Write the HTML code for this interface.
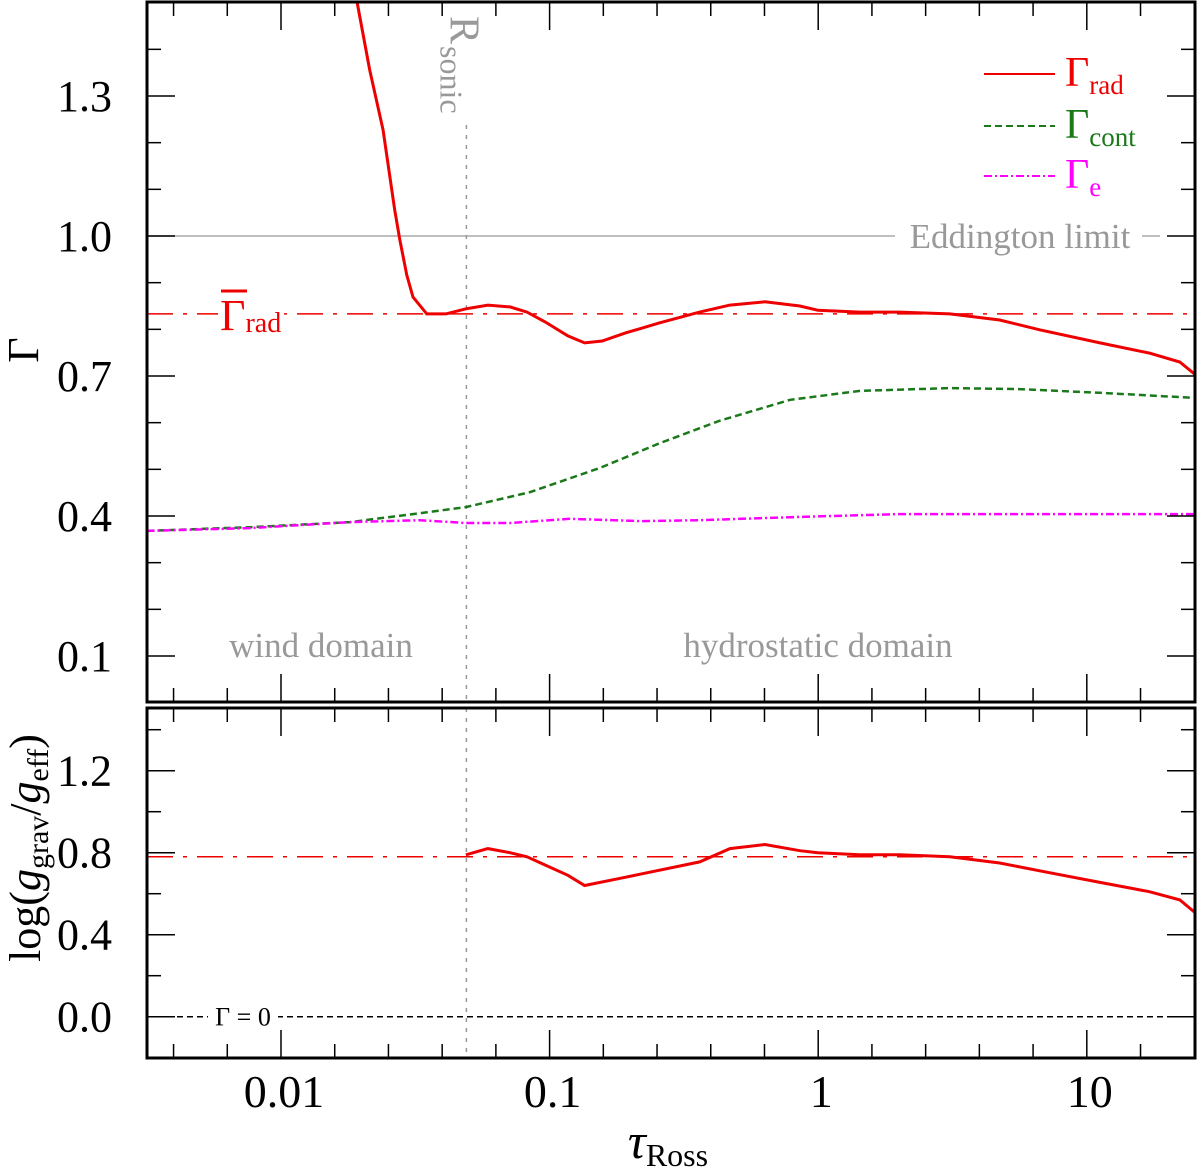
<!DOCTYPE html>
<html><head><meta charset="utf-8"><style>
body{margin:0;background:#fff}
svg{display:block;font-family:"Liberation Serif",serif}
</style></head><body>
<svg id="chart" width="1200" height="1171" viewBox="0 0 1200 1171" xmlns="http://www.w3.org/2000/svg">
<g id="g"></g>
</svg>
<script>
const tauRad=[0.0192,0.0214,0.0240,0.0265,0.0277,0.0294,0.0310,0.0349,0.0411,0.0488,0.0589,0.0712,0.0824,0.0962,0.117,0.135,0.157,0.191,0.257,0.362,0.469,0.633,0.855,0.997,1.43,2.01,3.09,4.74,6.68,11.2,17.1,22.2,25.2];
const gammaRad=[1.501,1.356,1.227,1.056,0.991,0.916,0.869,0.833,0.833,0.844,0.852,0.848,0.837,0.816,0.786,0.771,0.775,0.792,0.814,0.837,0.852,0.859,0.850,0.841,0.837,0.837,0.833,0.820,0.799,0.771,0.749,0.730,0.704];
const tauCont=[0.00316,0.00767,0.0181,0.0329,0.0488,0.0844,0.154,0.257,0.429,0.786,1.43,3.09,5.59,11.2,25.2];
const gammaCont=[0.368,0.376,0.387,0.406,0.419,0.451,0.503,0.556,0.604,0.649,0.668,0.674,0.672,0.664,0.653];
const tauE=[0.00316,0.00767,0.0181,0.0329,0.0488,0.0712,0.119,0.217,0.362,0.855,2.01,4.74,25.2];
const gammaE=[0.368,0.374,0.387,0.391,0.385,0.385,0.394,0.389,0.391,0.398,0.404,0.404,0.404];
const tauG=[0.0488,0.0589,0.0712,0.0824,0.0962,0.117,0.135,0.191,0.362,0.469,0.633,0.855,0.997,1.43,2.01,3.09,4.74,7.1,11.2,17.1,22.2,25.2];
const logG=[0.79,0.82,0.80,0.78,0.74,0.69,0.64,0.68,0.755,0.82,0.84,0.81,0.80,0.79,0.79,0.78,0.75,0.705,0.655,0.61,0.57,0.51];
const gammaMean=[0.833];
const logGMean=[0.78];
const tauSonic=[0.049];
const topTicks=[0.1,0.4,0.7,1.0,1.3];
const botTicks=[0.0,0.4,0.8,1.2];
const xTicks=[0.01,0.1,1,10];
const xTickLabels=["0.01","0.1","1","10"];

const NS="http://www.w3.org/2000/svg";
const L=147,R=1195,T1=2,B1=702,T2=708,B2=1058;
const X=t=>281+(Math.log10(t)+2)*268.6;
const Y1=v=>236-(v-1)*466.67;
const Y2=v=>1016.7-v*205;
const g=document.getElementById('g');
function el(tag,attrs,name,txt){const e=document.createElementNS(NS,tag);for(const k in attrs)e.setAttribute(k,attrs[k]);


if(txt!==undefined)e.textContent=txt;g.appendChild(e);return e;}
function pts(xs,ys,fy){return xs.map((t,i)=>X(t).toFixed(1)+','+fy(ys[i]).toFixed(1)).join(' ');}

const defs=document.createElementNS(NS,'defs');
defs.innerHTML='<clipPath id="c1"><rect x="147" y="2" width="1048" height="700"/></clipPath><clipPath id="c2"><rect x="147" y="708" width="1048" height="350"/></clipPath>';
g.appendChild(defs);

// eddington line
el('line',{x1:L,x2:895,y1:Y1(1),y2:Y1(1),stroke:'#aaa','stroke-width':1.5},'eddington-line');
el('line',{x1:1142,x2:1160,y1:Y1(1),y2:Y1(1),stroke:'#aaa','stroke-width':1.5},'eddington-line-end');
el('text',{x:1020,y:Y1(1)+12,'font-size':35,fill:'#999','text-anchor':'middle'},'eddington-label','Eddington limit');
// sonic line
el('line',{x1:X(tauSonic[0]),x2:X(tauSonic[0]),y1:125,y2:B1,stroke:'#999','stroke-width':1.5,'stroke-dasharray':'4,6'},'sonic-line-top');
el('line',{x1:X(tauSonic[0]),x2:X(tauSonic[0]),y1:T2,y2:B2,stroke:'#999','stroke-width':1.5,'stroke-dasharray':'4,6'},'sonic-line-bottom');
const st=el('text',{x:0,y:0,'font-size':42,fill:'#999',transform:`translate(${X(tauSonic[0])-16},16) rotate(90)`},'sonic-label');
st.innerHTML='R<tspan font-size="32" dy="10" dx="2">sonic</tspan>';
// mean lines
el('line',{x1:L,x2:R,y1:Y1(gammaMean[0]),y2:Y1(gammaMean[0]),stroke:'#e00','stroke-width':1.5,'stroke-dasharray':'26,10,4,10'},'gamma-rad-mean-line');
el('rect',{x:218,y:286,width:66,height:52,fill:'#fff'},'mean-label-bg');
const ml=el('text',{x:220,y:330,'font-size':44,fill:'#e00'},'gamma-rad-mean-label');
ml.innerHTML='Γ<tspan font-size="28" dy="2">rad</tspan>';
el('line',{x1:221,x2:247,y1:291,y2:291,stroke:'#e00','stroke-width':3},'mean-overbar');
el('line',{x1:L,x2:R,y1:Y2(logGMean[0]),y2:Y2(logGMean[0]),stroke:'#e00','stroke-width':1.5,'stroke-dasharray':'26,10,4,10'},'log-g-mean-line');
// gamma=0
el('line',{x1:L,x2:R,y1:Y2(0),y2:Y2(0),stroke:'#000','stroke-width':1.5,'stroke-dasharray':'6,4'},'gamma-zero-line');
el('rect',{x:208,y:Y2(0)-16,width:70,height:30,fill:'#fff'},'gamma-zero-bg');
el('text',{x:243,y:Y2(0)+9,'font-size':26,'text-anchor':'middle'},'gamma-zero-label','Γ = 0');
// series
el('polyline',{points:pts(tauCont,gammaCont,Y1),fill:'none',stroke:'#1a7a1a','stroke-width':2.5,'stroke-dasharray':'7,4','clip-path':'url(#c1)'},'gamma-cont-line');
el('polyline',{points:pts(tauE,gammaE,Y1),fill:'none',stroke:'#f0f','stroke-width':2.5,'stroke-dasharray':'8,3,2,3','clip-path':'url(#c1)'},'gamma-e-line');
el('polyline',{points:pts(tauRad,gammaRad,Y1),fill:'none',stroke:'#e00','stroke-width':3,'clip-path':'url(#c1)'},'gamma-rad-line');
el('polyline',{points:pts(tauG,logG,Y2),fill:'none',stroke:'#e00','stroke-width':3,'clip-path':'url(#c2)'},'log-g-ratio-line');
// domain labels
el('text',{x:321,y:657,'font-size':35,fill:'#999','text-anchor':'middle'},'wind-domain-label','wind domain');
el('text',{x:818,y:657,'font-size':35,fill:'#999','text-anchor':'middle'},'hydrostatic-domain-label','hydrostatic domain');
// legend
const leg=[['#e00','none','rad',86],['#1a7a1a','7,4','cont',138],['#f0f','8,3,2,3','e',188]];
leg.forEach(([c,d,s,y])=>{
 el('line',{x1:984,x2:1055,y1:y-12,y2:y-12,stroke:c,'stroke-width':2,'stroke-dasharray':d},'legend-line-'+s);
 const t=el('text',{x:1065,y:y,'font-size':42,fill:c},'legend-label-'+s);
 t.innerHTML='Γ<tspan font-size="27" dy="8">'+s+'</tspan>';
});
// frames
el('rect',{x:L,y:T1,width:R-L,height:B1-T1,fill:'none',stroke:'#000','stroke-width':3},'top-panel-frame');
el('rect',{x:L,y:T2,width:R-L,height:B2-T2,fill:'none',stroke:'#000','stroke-width':3},'bottom-panel-frame');
// x ticks
for(let k=-2.6;k<=1.45;k+=0.2){const lk=Math.round(k*10)/10;const x=X(Math.pow(10,lk));if(x<L+2||x>R-2)continue;
 const major=Math.abs(lk-Math.round(lk))<0.01;const len=major?28:14;
 [[T1,1],[B1,-1],[T2,1],[B2,-1]].forEach(([y,s])=>el('line',{x1:x,x2:x,y1:y,y2:y+s*len,stroke:'#000','stroke-width':1.5},'x-tick'));}
xTicks.forEach((t,i)=>el('text',{x:X(t)+3,y:1107,'font-size':46,'text-anchor':'middle'},'x-tick-label',xTickLabels[i]));
// y ticks
for(let v=0.1;v<=1.45;v+=0.1){const vv=Math.round(v*10)/10;const y=Y1(vv);const major=topTicks.some(t=>Math.abs(t-vv)<1e-6);const len=major?28:14;
 el('line',{x1:L,x2:L+len,y1:y,y2:y,stroke:'#000','stroke-width':1.5},'y-tick-top');
 el('line',{x1:R,x2:R-len,y1:y,y2:y,stroke:'#000','stroke-width':1.5},'y-tick-top-right');}
topTicks.forEach(v=>el('text',{x:112,y:Y1(v)+15,'font-size':44,'text-anchor':'end'},'y-tick-label-top',v.toFixed(1)));
for(let v=-0.2;v<=1.45;v+=0.2){const vv=Math.round(v*10)/10;const y=Y2(vv);if(y>B2-2||y<T2+2)continue;const major=botTicks.some(t=>Math.abs(t-vv)<1e-6);const len=major?28:14;
 el('line',{x1:L,x2:L+len,y1:y,y2:y,stroke:'#000','stroke-width':1.5},'y-tick-bottom');
 el('line',{x1:R,x2:R-len,y1:y,y2:y,stroke:'#000','stroke-width':1.5},'y-tick-bottom-right');}
botTicks.forEach(v=>el('text',{x:112,y:Y2(v)+15,'font-size':44,'text-anchor':'end'},'y-tick-label-bottom',v.toFixed(1)));
// axis titles
el('text',{x:0,y:0,'font-size':44,transform:'translate(38,350) rotate(-90)','text-anchor':'middle'},'y-axis-title-top','Γ');
const yb=el('text',{x:0,y:0,'font-size':44,transform:'translate(40,848) rotate(-90)','text-anchor':'middle'},'y-axis-title-bottom');
yb.innerHTML='log(<tspan font-style="italic">g</tspan><tspan font-size="30" dy="8">grav</tspan><tspan dy="-8">/</tspan><tspan font-style="italic">g</tspan><tspan font-size="30" dy="8">eff</tspan><tspan dy="-8">)</tspan>';
const xt=el('text',{x:668,y:1158,'font-size':50,'text-anchor':'middle'},'x-axis-title');
xt.innerHTML='<tspan font-style="italic">τ</tspan><tspan font-size="32" dy="8">Ross</tspan>';
</script>
</body></html>
